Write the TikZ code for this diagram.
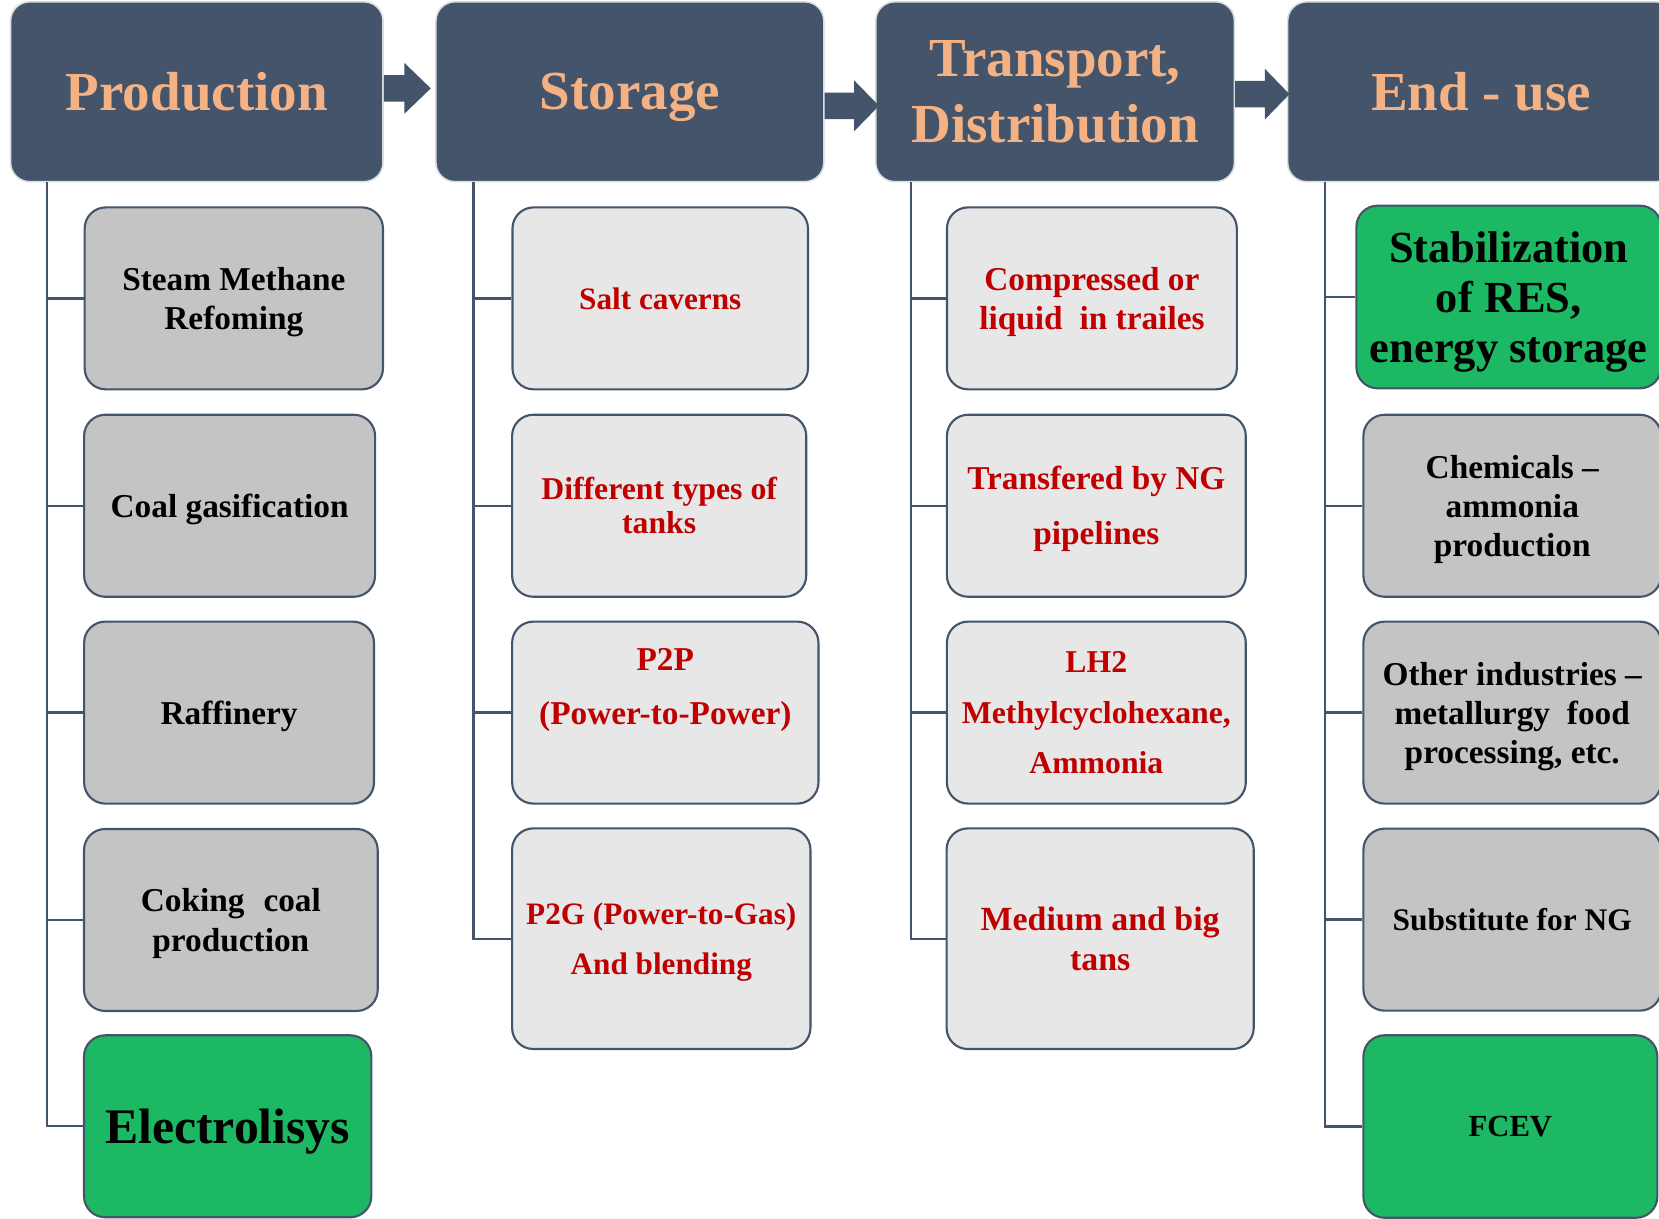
\documentclass[tikz,border=0pt]{standalone}
\usepackage{fontspec}
\setmainfont{Liberation Serif}
\usetikzlibrary{calc}
\definecolor{hdrc}{HTML}{44546A}
\definecolor{hdrline}{HTML}{D9DCE0}
\definecolor{peach}{HTML}{F4B183}
\definecolor{grayfill}{HTML}{C4C4C4}
\definecolor{lightfill}{HTML}{E7E7E7}
\definecolor{greenfill}{HTML}{1CB864}
\definecolor{edge}{HTML}{44546A}
\definecolor{redtxt}{HTML}{C00000}
\newcommand\hdrarrow[3]{\fill[hdrc] ($(#1)+(0,-12.5)$) -- ++(#2,0) -- ++(0,-11.5) -- ($(#1)+(#3,0)$) -- ($(#1)+(#2,24)$) -- ++(0,-11.5) -- ($(#1)+(0,12.5)$) -- cycle;}
\tikzset{
  hdrbox/.style={rectangle, rounded corners=18pt, fill=hdrc, draw=hdrline, line width=1.5pt, inner sep=0pt, text=peach, align=center, font=\bfseries\fontsize{52}{62}\selectfont, minimum height=170pt},
  item/.style={rectangle, rounded corners=20pt, draw=edge, line width=2pt, inner sep=0pt, align=center, font=\bfseries\fontsize{31.5}{37}\selectfont, minimum height=172pt, text depth=0pt},
  grayitem/.style={item, fill=grayfill, text=black},
  lightitem/.style={item, fill=lightfill, text=redtxt},
  greenitem/.style={item, fill=greenfill, text=black},
  redtext/.style={inner sep=0pt, align=center, text=redtxt, font=\bfseries\fontsize{31.5}{37}\selectfont},
  conn/.style={draw=edge, line width=2.2pt},
}
\begin{document}
\begin{tikzpicture}[x=1pt, y=-1pt]
\useasboundingbox (0,0) rectangle (1568,1152);
\clip (0,0) rectangle (1568,1152);

% headers
\node[hdrbox, minimum width=352pt] (prod) at (186,86.7) {Production};
\node[hdrbox, minimum width=366.6pt, text depth=0pt] (stor) at (595.3,86.7) {Storage};
\node[hdrbox, minimum width=339pt] (trans) at (997.2,86.7) {Transport,\\Distribution};
\node[hdrbox, minimum width=366pt] (enduse) at (1400,86.7) {End - use};

% block arrows between headers
\coordinate (a1) at ($(prod.east)+(0,-3.2)$);
\coordinate (a2) at ($(stor.east)+(0,13.3)$);
\coordinate (a3) at ($(trans.east)+(0,2.3)$);
\hdrarrow{a1}{19.5}{44.4}
\hdrarrow{a2}{28}{51.4}
\hdrarrow{a3}{28}{51.3}

% production column
\node[grayitem, minimum width=282pt] (steam) at (221,282) {Steam Methane\\Refoming};
\node[grayitem, minimum width=275pt] (coal) at (217,478) {Coal gasification};
\node[grayitem, minimum width=274pt] (raff) at (216.5,673.5) {Raffinery};
\node[grayitem, minimum width=277.6pt] (coke) at (218.2,869.5) {Coking\hspace{18pt}coal\\production};
\node[greenitem, minimum width=271.6pt, font=\bfseries\fontsize{47}{54}\selectfont] (elec) at (215.2,1064.5) {Electrolisys};

% storage column
\node[lightitem, minimum width=279.3pt, font=\bfseries\fontsize{29.5}{35}\selectfont] (salt) at (624,282) {Salt caverns};
\node[lightitem, minimum width=278pt, font=\bfseries\fontsize{30}{32}\selectfont] (tanks) at (623,478) {Different types of\\tanks};
\node[lightitem, minimum width=289.5pt] (p2p) at (628.8,673.5) {};
\node[redtext] (p2ptxt) at ([yshift=21pt]p2p.center) {P2P\\[14pt](Power-to-Power)};
\node[lightitem, minimum width=282pt, minimum height=208.5pt, font=\bfseries\fontsize{29.5}{48}\selectfont] (p2g) at (625,887.2) {P2G (Power-to-Gas)\\And blending};

% transport column
\node[lightitem, minimum width=274pt] (comp) at (1032,282) {Compressed or\\liquid\hspace{16pt}in trailes};
\node[lightitem, minimum width=282.5pt, font=\bfseries\fontsize{31.5}{52}\selectfont] (pipe) at (1036.2,478) {Transfered by NG\\pipelines};
\node[lightitem, minimum width=282.5pt, font=\bfseries\fontsize{30}{48}\selectfont] (lh2) at (1036.2,673.5) {LH2\\Methylcyclohexane,\\Ammonia};
\node[lightitem, minimum width=290.3pt, minimum height=208.5pt, font=\bfseries\fontsize{32}{38}\selectfont] (tans) at (1039.8,887.2) {Medium and big\\tans};

% end-use column
\node[greenitem, minimum width=288pt, minimum height=172.6pt, font=\bfseries\fontsize{42}{47.5}\selectfont] (stab) at (1426,280.7) {Stabilization\\of RES,\\energy storage};
\node[grayitem, minimum width=281.4pt] (chem) at (1429.3,478) {Chemicals –\\ammonia\\production};
\node[grayitem, minimum width=281.4pt] (other) at (1429.3,673.5) {Other industries –\\metallurgy\hspace{16pt}food\\processing, etc.};
\node[grayitem, minimum width=281.4pt, font=\bfseries\fontsize{29.7}{35}\selectfont] (subst) at (1429.3,869.2) {Substitute for NG};
\node[greenitem, minimum width=277.8pt, minimum height=172.5pt, font=\bfseries\fontsize{29}{35}\selectfont] (fcev) at (1427.5,1064.7) {FCEV};

% connectors
\coordinate (ptop) at (44.5,171.7);
\coordinate (stop) at (447.5,171.7);
\coordinate (ttop) at (861,171.7);
\coordinate (etop) at (1252,171.7);
\draw[conn] (ptop) -- (ptop |- elec.west) -- (elec.west);
\foreach \n in {steam,coal,raff,coke} \draw[conn] (ptop |- \n.west) -- (\n.west);
\draw[conn] (stop) -- (stop |- p2g.west) -- (p2g.west);
\foreach \n in {salt,tanks,p2p} \draw[conn] (stop |- \n.west) -- (\n.west);
\draw[conn] (ttop) -- (ttop |- tans.west) -- (tans.west);
\foreach \n in {comp,pipe,lh2} \draw[conn] (ttop |- \n.west) -- (\n.west);
\draw[conn] (etop) -- (etop |- fcev.west) -- (fcev.west);
\foreach \n in {stab,chem,other,subst} \draw[conn] (etop |- \n.west) -- (\n.west);
\end{tikzpicture}
\end{document}
